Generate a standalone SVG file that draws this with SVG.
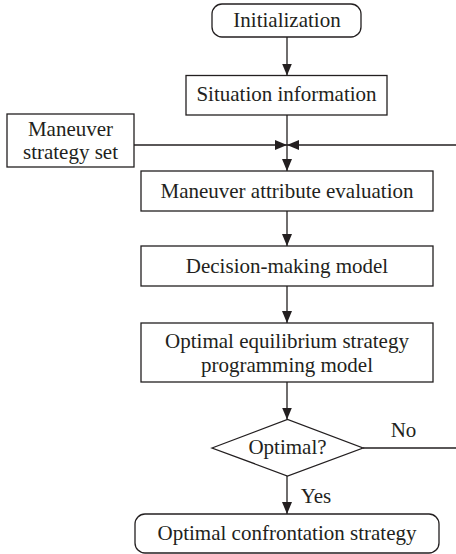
<svg xmlns="http://www.w3.org/2000/svg" width="456" height="554" viewBox="0 0 456 554">
<defs>
<marker id="ah" viewBox="0 0 12 10" refX="12" refY="5" markerWidth="12" markerHeight="10" markerUnits="userSpaceOnUse" orient="auto">
<path d="M0,0 L12,5 L0,10 Z" fill="#231f20"/>
</marker>
<style>
.box{fill:#fff;stroke:#231f20;stroke-width:1.3}
.t{font-family:"Liberation Serif","Times New Roman",serif;font-size:21px;fill:#231f20;text-anchor:middle}
.c{fill:none;stroke:#231f20;stroke-width:1.3}
</style>
</defs>
<rect width="456" height="554" fill="#fff"/>
<g id="n-init"><rect class="box" x="212" y="4" width="149" height="33" rx="10"/><text class="t" x="287" y="27">Initialization</text></g>
<g id="n-situation"><rect class="box" x="186" y="75.5" width="201" height="39.5"/><text class="t" x="286.5" y="101">Situation information</text></g>
<g id="n-set"><rect class="box" x="7" y="114" width="127" height="53"/><text class="t" x="70.5" y="136">Maneuver</text><text class="t" x="70.5" y="159">strategy set</text></g>
<g id="n-attr"><rect class="box" x="141" y="171" width="292" height="40"/><text class="t" x="287" y="198">Maneuver attribute evaluation</text></g>
<g id="n-decision"><rect class="box" x="141" y="246" width="292" height="40"/><text class="t" x="287" y="273">Decision-making model</text></g>
<g id="n-program"><rect class="box" x="141" y="323" width="292" height="59"/><text class="t" x="287" y="348">Optimal equilibrium strategy</text><text class="t" x="287" y="372">programming model</text></g>
<g id="n-optimal"><path class="box" d="M212,448 L287.5,419.5 L363,448 L287.5,476 Z"/><text class="t" x="287.5" y="454">Optimal?</text></g>
<g id="n-final"><rect class="box" x="135" y="514" width="304" height="39" rx="10"/><text class="t" x="287" y="540">Optimal confrontation strategy</text></g>
<g id="connectors">
<line class="c" x1="287" y1="37" x2="287" y2="75.5" marker-end="url(#ah)"/>
<line class="c" x1="287" y1="115" x2="287" y2="171" marker-end="url(#ah)"/>
<line class="c" x1="134" y1="145" x2="287" y2="145" marker-end="url(#ah)"/>
<line class="c" x1="456" y1="145" x2="287" y2="145" marker-end="url(#ah)"/>
<line class="c" x1="287" y1="211" x2="287" y2="246" marker-end="url(#ah)"/>
<line class="c" x1="287" y1="286" x2="287" y2="323" marker-end="url(#ah)"/>
<line class="c" x1="287" y1="382" x2="287" y2="419.5" marker-end="url(#ah)"/>
<line class="c" x1="287" y1="476" x2="287" y2="514" marker-end="url(#ah)"/>
<line class="c" x1="363" y1="448" x2="456" y2="448"/>
<text class="t" x="403.5" y="437">No</text>
<text class="t" x="316" y="503">Yes</text>
</g>
</svg>
